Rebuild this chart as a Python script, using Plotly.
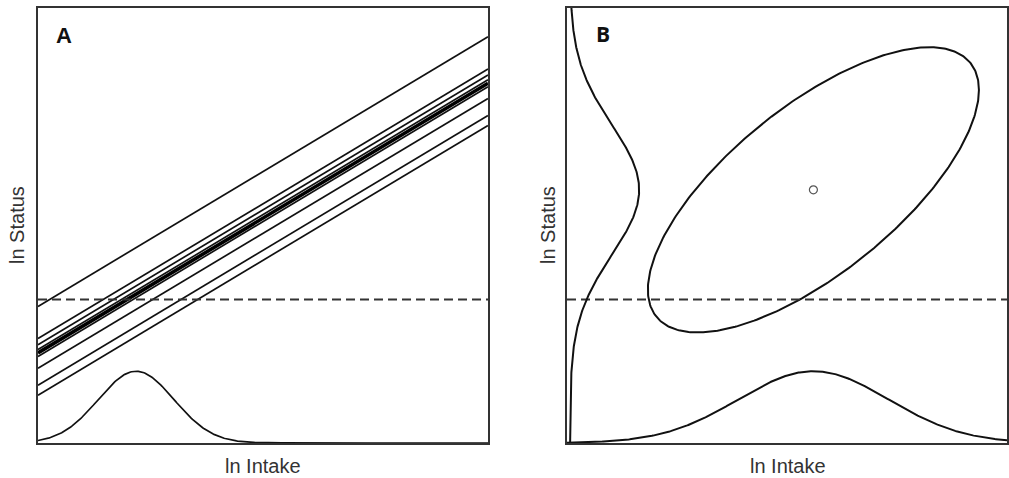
import numpy as np
import plotly.graph_objects as go

# ---- data ----
# Panel A: regression lines ln Status = intercept + slope * ln Intake
line_intercepts = [3.14, 2.40, 2.26, 2.15, 1.99, 1.72, 1.33, 1.10]
mean_intercept = 2.07
common_slope = 0.62
threshold = 3.30                      # dashed cut-off for ln Status

# Panel A: intake distribution (normal density)
a_intake_mean = 2.18
a_intake_sd = 0.84
a_intake_peak = 1.65

# Panel B: joint distribution of ln Intake and ln Status
b_mean_intake = 5.60
b_mean_status = 5.82
b_sd_intake = 1.71
b_sd_status = 1.49
b_rho = 0.70
b_contour_k = 2.2
b_intake_peak = 1.65
b_status_peak = 1.57
b_status_base = 0.07

x_range = [0, 10]
y_range = [0, 10]

INK = "#111111"
FRAME = "#333333"
TEXT = "#333333"

fig = go.Figure()

# ---- Panel A ----
xa = np.array(x_range, dtype=float)
for b0 in line_intercepts:
    fig.add_trace(go.Scatter(x=xa, y=b0 + common_slope * xa, mode="lines",
                             line=dict(color=INK, width=1.7),
                             xaxis="x", yaxis="y", showlegend=False, hoverinfo="skip"))
fig.add_trace(go.Scatter(x=xa, y=mean_intercept + common_slope * xa, mode="lines",
                         line=dict(color="#000000", width=3.6),
                         xaxis="x", yaxis="y", showlegend=False, hoverinfo="skip"))
fig.add_trace(go.Scatter(x=xa, y=[threshold, threshold], mode="lines",
                         line=dict(color=FRAME, width=2, dash="9px,5px"),
                         xaxis="x", yaxis="y", showlegend=False, hoverinfo="skip"))
xs = np.linspace(x_range[0], x_range[1], 400)
fig.add_trace(go.Scatter(x=xs, y=a_intake_peak * np.exp(-0.5 * ((xs - a_intake_mean) / a_intake_sd) ** 2),
                         mode="lines", line=dict(color=INK, width=1.7),
                         xaxis="x", yaxis="y", showlegend=False, hoverinfo="skip"))

# ---- Panel B ----
t = np.linspace(0, 2 * np.pi, 400)
cov = np.array([[b_sd_intake ** 2, b_rho * b_sd_intake * b_sd_status],
                [b_rho * b_sd_intake * b_sd_status, b_sd_status ** 2]])
L = np.linalg.cholesky(cov)
pts = b_contour_k * (L @ np.vstack([np.cos(t), np.sin(t)]))
fig.add_trace(go.Scatter(x=b_mean_intake + pts[0], y=b_mean_status + pts[1], mode="lines",
                         line=dict(color=INK, width=2),
                         xaxis="x2", yaxis="y2", showlegend=False, hoverinfo="skip"))
fig.add_trace(go.Scatter(x=[b_mean_intake], y=[b_mean_status], mode="markers",
                         marker=dict(symbol="circle-open", size=8, color="#555555", line=dict(width=1.2)),
                         xaxis="x2", yaxis="y2", showlegend=False, hoverinfo="skip"))
fig.add_trace(go.Scatter(x=xa, y=[threshold, threshold], mode="lines",
                         line=dict(color=FRAME, width=2, dash="9px,5px"),
                         xaxis="x2", yaxis="y2", showlegend=False, hoverinfo="skip"))
fig.add_trace(go.Scatter(x=xs, y=b_intake_peak * np.exp(-0.5 * ((xs - b_mean_intake) / b_sd_intake) ** 2),
                         mode="lines", line=dict(color=INK, width=2),
                         xaxis="x2", yaxis="y2", showlegend=False, hoverinfo="skip"))
ys = np.linspace(y_range[0], y_range[1], 400)
fig.add_trace(go.Scatter(x=b_status_base + b_status_peak * np.exp(-0.5 * ((ys - b_mean_status) / b_sd_status) ** 2),
                         y=ys, mode="lines", line=dict(color=INK, width=2),
                         xaxis="x2", yaxis="y2", showlegend=False, hoverinfo="skip"))

W, H = 1009, 478
ax_common = dict(showgrid=False, zeroline=False, showticklabels=False, ticks="",
                 showline=True, mirror=True, linecolor=FRAME, linewidth=2, fixedrange=True)
ydom = [1 - 443 / H, 1 - 8 / H]
fig.update_layout(
    width=W, height=H, margin=dict(l=0, r=0, t=0, b=0),
    paper_bgcolor="white", plot_bgcolor="white",
    xaxis=dict(domain=[38 / W, 488 / W], range=x_range, anchor="y", **ax_common),
    yaxis=dict(domain=ydom, range=y_range, anchor="x", **ax_common),
    xaxis2=dict(domain=[567 / W, 1007 / W], range=x_range, anchor="y2", **ax_common),
    yaxis2=dict(domain=ydom, range=y_range, anchor="x2", **ax_common),
    font=dict(family="Liberation Sans, Arial, sans-serif"),
)

def label(text, x, y, size=20, angle=0, bold=False, color=TEXT, family="Liberation Sans, Arial, sans-serif"):
    fig.add_annotation(text=f"<b>{text}</b>" if bold else text,
                       x=x / W, y=1 - y / H, xref="paper", yref="paper",
                       showarrow=False, textangle=angle, xanchor="center", yanchor="middle",
                       font=dict(size=size, color=color, family=family))

label("ln Intake", 263, 466)
label("ln Status", 17, 225, angle=-90)
label("ln Intake", 788, 466)
label("ln Status", 548, 225, angle=-90)
label("A", 64, 36, size=22, bold=True, color="#111111")
label("B", 603, 34, size=21, bold=True, color="#111111", family="Open Sans, Liberation Sans, sans-serif")

fig.write_html("out.html", config={"displayModeBar": False},
               post_script="document.body.style.margin='0';document.body.style.overflow='hidden';")
